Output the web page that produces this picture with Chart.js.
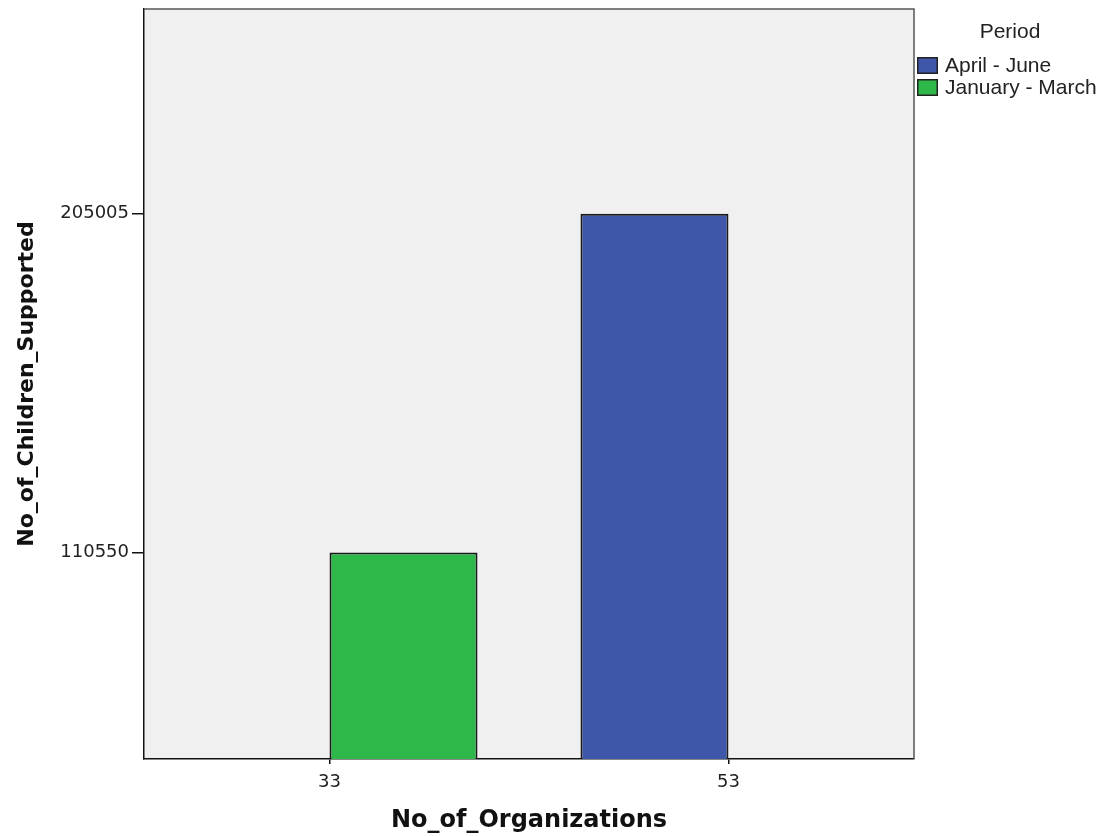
<!DOCTYPE html>
<html>
<head>
<meta charset="utf-8">
<script src="https://cdn.jsdelivr.net/npm/chart.js@4"></script>
<style>
  body { margin: 0; background: #fff; }
</style>
</head>
<body>
<canvas id="chart" width="1105" height="836"></canvas>
<script>
// data
const periods = ['April - June', 'January - March']
const orgCounts = [53, 33]
const childrenSupported = [205005, 110550]
const periodColors = ['#3E57A9', '#2EB84A']

const xTicks = [33, 53]
const yTicks = [110550, 205005]

// plot background + top/right frame
const plotFrame = {
  id: 'plotFrame',
  beforeDraw(chart) {
    const { ctx, chartArea: a } = chart
    ctx.save()
    ctx.fillStyle = '#F0F0F0'
    ctx.fillRect(a.left, a.top, a.right - a.left, a.bottom - a.top)
    ctx.restore()
  },
  afterDraw(chart) {
    const { ctx, chartArea: a } = chart
    ctx.save()
    ctx.strokeStyle = '#555'
    ctx.lineWidth = 1.5
    ctx.beginPath()
    ctx.moveTo(a.left, a.top)
    ctx.lineTo(a.right, a.top)
    ctx.lineTo(a.right, a.bottom)
    ctx.stroke()
    ctx.restore()
  },
}

// legend on the right, drawn like the SPSS one
const periodLegend = {
  id: 'periodLegend',
  afterDraw(chart) {
    const { ctx } = chart
    const x0 = chart.chartArea.right + 3
    ctx.save()
    ctx.fillStyle = '#222'
    ctx.font = '21px "Liberation Sans", Arial, sans-serif'
    ctx.textAlign = 'center'
    ctx.textBaseline = 'middle'
    ctx.fillText('Period', 1010, 32)
    ctx.textAlign = 'left'
    chart.data.datasets.forEach((ds, i) => {
      let y = 57 + i * 22
      ctx.fillStyle = ds.backgroundColor
      ctx.fillRect(x0, y, 21, 17)
      ctx.strokeStyle = '#222'
      ctx.lineWidth = 1.5
      ctx.strokeRect(x0 + 0.75, y + 0.75, 19.5, 15.5)
      ctx.fillStyle = '#222'
      ctx.fillText(ds.label, x0 + 28, y + 9)
    })
    ctx.restore()
  },
}

let ctx = document.getElementById('chart').getContext('2d')

let data = {
  datasets: periods.map((p, i) => ({
    label: p,
    data: [{ x: orgCounts[i], y: childrenSupported[i] }],
    backgroundColor: periodColors[i],
    borderColor: '#1a1a1a',
    borderWidth: 2,
    categoryPercentage: 0.742,
    barPercentage: 1.0,
  })),
}

let options = {
  responsive: false,
  animation: false,
  layout: {
    padding: { top: 9, right: 191, left: 0, bottom: 0 },
  },
  plugins: {
    legend: { display: false },
    tooltip: { enabled: false },
  },
  scales: {
    x: {
      type: 'linear',
      offset: false,
      min: 23.7,
      max: 62.3,
      afterBuildTicks: (scale) => {
        scale.ticks = xTicks.map((v) => ({ value: v }))
      },
      afterFit: (scale) => {
        scale.height = 77
      },
      ticks: {
        callback: (v) => String(v),
        color: '#222',
        padding: 8,
        font: { family: 'DejaVu Sans', size: 18 },
      },
      grid: {
        offset: false,
        drawOnChartArea: false,
        drawTicks: true,
        tickLength: 5,
        color: '#111',
        lineWidth: 1.5,
      },
      border: { color: '#111', width: 1.5 },
      title: {
        display: true,
        text: 'No_of_Organizations',
        color: '#111',
        padding: { top: 0, bottom: 1 },
        font: { family: 'DejaVu Sans', weight: 'bold', size: 24 },
      },
    },
    y: {
      type: 'linear',
      min: 53000,
      max: 262100,
      afterBuildTicks: (scale) => {
        scale.ticks = yTicks.map((v) => ({ value: v }))
      },
      afterFit: (scale) => {
        scale.width = 144
        // ticks are far from the ends, no need for label room
        scale.paddingTop = 0
        scale.paddingBottom = 0
      },
      ticks: {
        callback: (v) => String(v),
        color: '#222',
        padding: 3,
        font: { family: 'DejaVu Sans', size: 18 },
      },
      grid: {
        drawOnChartArea: false,
        drawTicks: true,
        tickLength: 12,
        color: '#111',
        lineWidth: 1.5,
      },
      border: { color: '#111', width: 1.5 },
      title: {
        display: true,
        text: 'No_of_Children_Supported',
        color: '#111',
        padding: { top: 14, bottom: 0 },
        font: { family: 'DejaVu Sans', weight: 'bold', size: 22 },
      },
    },
  },
}

let barChart = new Chart(ctx, {
  type: 'bar',
  data: data,
  options: options,
  plugins: [plotFrame, periodLegend],
})
</script>
</body>
</html>
